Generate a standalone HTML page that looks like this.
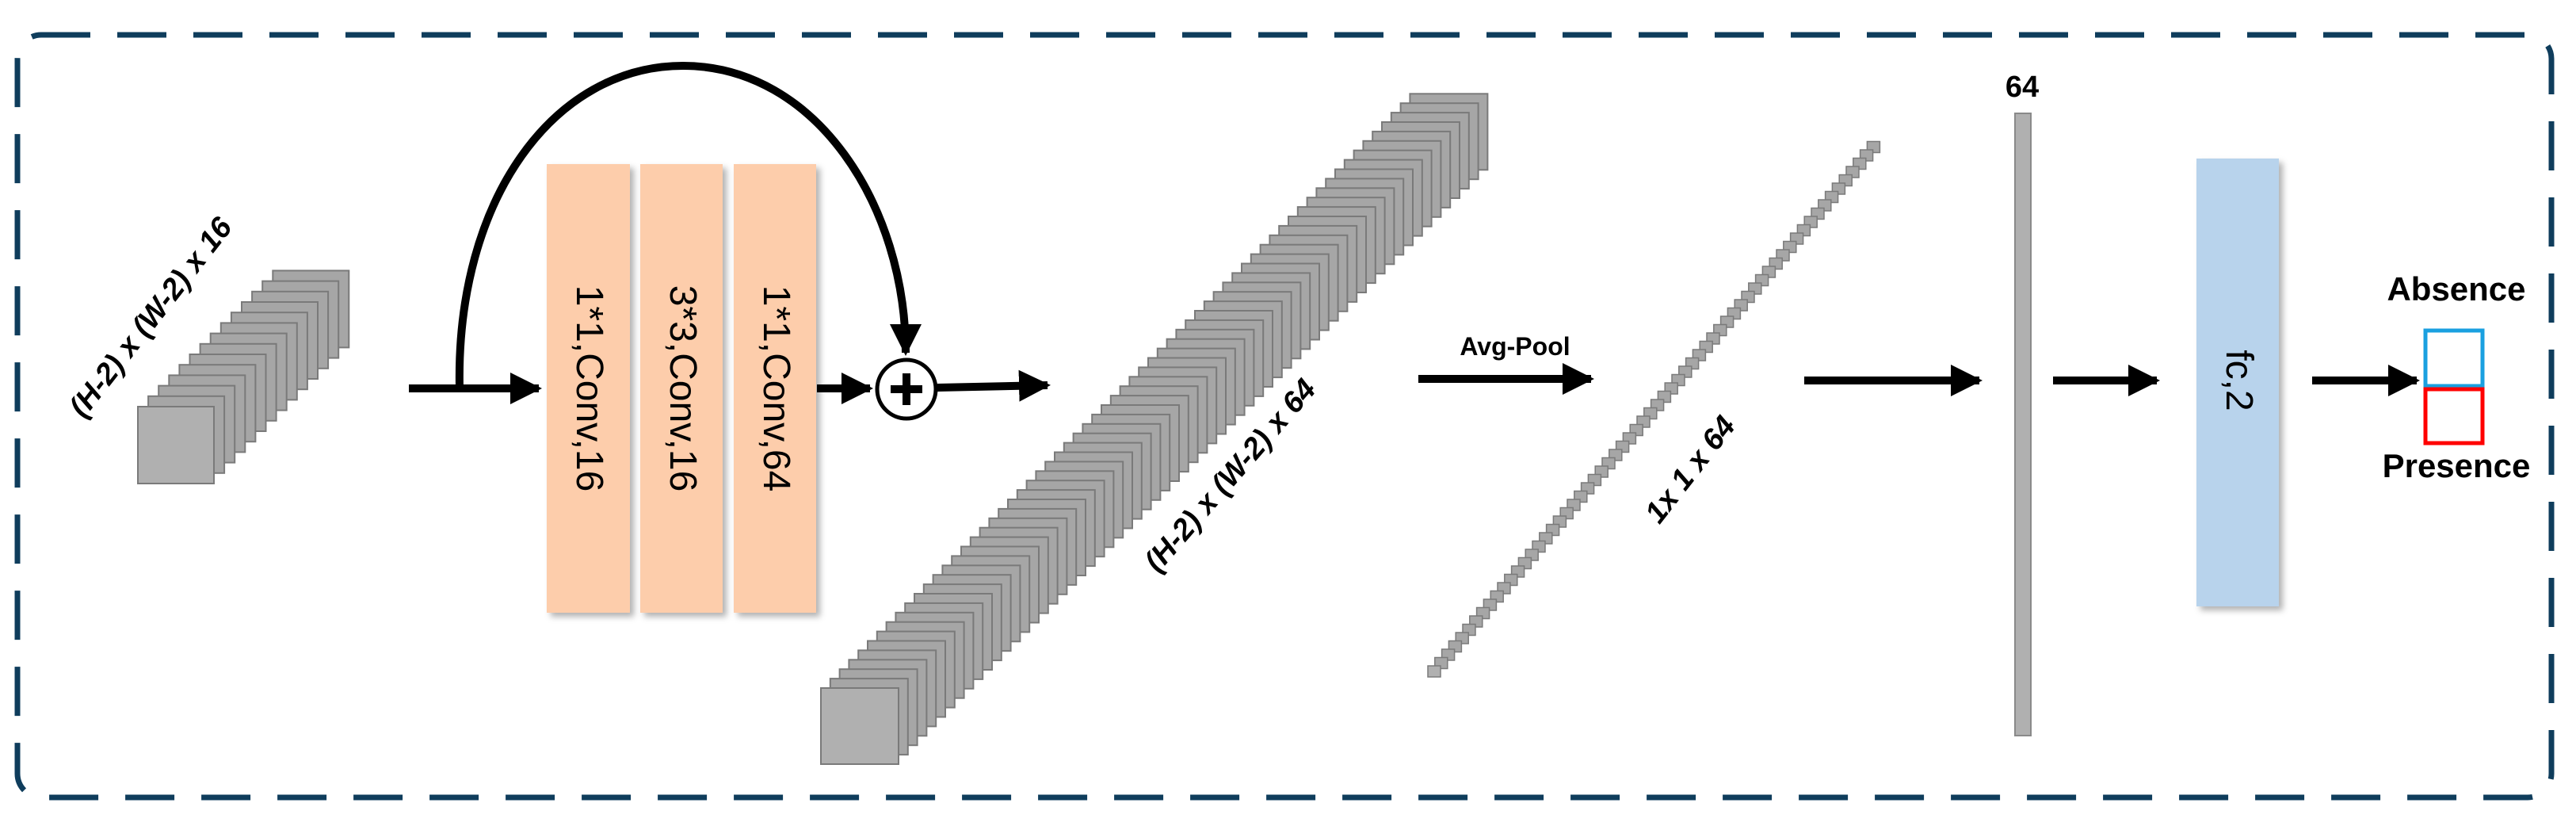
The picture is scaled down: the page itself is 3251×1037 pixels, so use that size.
<!DOCTYPE html>
<html><head><meta charset="utf-8">
<style>
html,body{margin:0;padding:0;background:#fff;}
svg{display:block;}
text{font-family:"Liberation Sans",Arial,sans-serif;}
</style></head>
<body>
<svg id="s" width="3251" height="1037" viewBox="0 0 3251 1037" xmlns="http://www.w3.org/2000/svg">
<defs>
<marker id="ah" markerWidth="5" markerHeight="5" refX="3.6" refY="2.2" orient="auto" markerUnits="strokeWidth">
<path d="M0,0.2 L4,2.2 L0,4.2 Z" fill="#000"/>
</marker>
<filter id="sh" x="-10%" y="-10%" width="130%" height="130%"><feDropShadow dx="5" dy="5" stdDeviation="4" flood-color="#000" flood-opacity="0.3"/></filter>
</defs>
<rect x="22" y="44" width="3198" height="962" rx="30" ry="30" fill="none" stroke="#0f3d5c" stroke-width="7" stroke-dasharray="62,34"/>

<g id="stacks"></g>

<g filter="url(#sh)">
<rect x="690" y="207" width="105" height="566" fill="#fdcdab"/>
<rect x="808" y="207" width="104" height="566" fill="#fdcdab"/>
<rect x="926" y="207" width="104" height="566" fill="#fdcdab"/>
<rect x="2772" y="200" width="104" height="565" fill="#b8d3ec"/>
</g>
<text transform="translate(728,490) rotate(90)" font-size="48" text-anchor="middle">1*1,Conv,16</text>
<text transform="translate(846,490) rotate(90)" font-size="48" text-anchor="middle">3*3,Conv,16</text>
<text transform="translate(964,490) rotate(90)" font-size="48" text-anchor="middle">1*1,Conv,64</text>
<text transform="translate(2810,480) rotate(90)" font-size="48" text-anchor="middle">fc,2</text>

<g stroke="#000" stroke-width="10" fill="none">
<line x1="516" y1="490" x2="680" y2="490" marker-end="url(#ah)"/>
<path d="M580,490 C575,250 700,83 862,83 C1030,83 1143,260 1143,445" marker-end="url(#ah)"/>
<line x1="1031" y1="490" x2="1098" y2="490" marker-end="url(#ah)"/>
<line x1="1183" y1="489" x2="1322" y2="486" marker-end="url(#ah)"/>
<line x1="1790" y1="478" x2="2008" y2="478" marker-end="url(#ah)"/>
<line x1="2277" y1="480" x2="2498" y2="480" marker-end="url(#ah)"/>
<line x1="2591" y1="480" x2="2722" y2="480" marker-end="url(#ah)"/>
<line x1="2918" y1="480" x2="3050" y2="480" marker-end="url(#ah)"/>
</g>
<circle cx="1144" cy="491" r="37" fill="#fff" stroke="#000" stroke-width="5"/>
<path d="M1144,471 V511 M1124,491 H1164" stroke="#000" stroke-width="10"/>

<rect x="2543" y="143" width="20" height="785" fill="#b0b0b0" stroke="#8a8a8a" stroke-width="2"/>
<text x="2552" y="122" font-size="38" font-weight="bold" text-anchor="middle">64</text>

<rect x="3061" y="417" width="72" height="70" fill="#fff" stroke="#1aa0e0" stroke-width="5"/>
<rect x="3061" y="491" width="72" height="68" fill="#fff" stroke="#ff0000" stroke-width="5"/>
<text x="3100" y="379" font-size="42" font-weight="bold" text-anchor="middle">Absence</text>
<text x="3100" y="602" font-size="42" font-weight="bold" text-anchor="middle">Presence</text>

<text x="1912" y="448" font-size="32" font-weight="bold" text-anchor="middle">Avg-Pool</text>
<text transform="translate(200,408) rotate(-52)" font-size="38" font-weight="bold" font-style="italic" text-anchor="middle">(H-2) x (W-2) x 16</text>
<text transform="translate(1562,608) rotate(-49)" font-size="38" font-weight="bold" font-style="italic" text-anchor="middle">(H-2) x (W-2) x 64</text>
<text transform="translate(2143,600) rotate(-52)" font-size="38" font-weight="bold" font-style="italic" text-anchor="middle">1x 1 x 64</text>
</svg>
<script>
(function(){
var g=document.getElementById('stacks'),ns='http://www.w3.org/2000/svg';
function stack(x0,y0,w,h,n,dx,dy,sw){
 for(var i=n-1;i>=0;i--){
  var r=document.createElementNS(ns,'rect');
  r.setAttribute('x',x0+i*dx);r.setAttribute('y',y0-i*dy);
  r.setAttribute('width',w);r.setAttribute('height',h);
  r.setAttribute('fill',i==0?'#b0b0b0':'#a6a6a6');
  r.setAttribute('stroke','#7a7a7a');r.setAttribute('stroke-width',sw);
  g.appendChild(r);
 }
}
stack(174,513,96,97,14,13.1,13.2,2);
stack(1036,868,98,96,64,11.8,11.9,2);
stack(1802,840,16,14,64,8.8,10.5,1.5);
})();
</script>
</body></html>
